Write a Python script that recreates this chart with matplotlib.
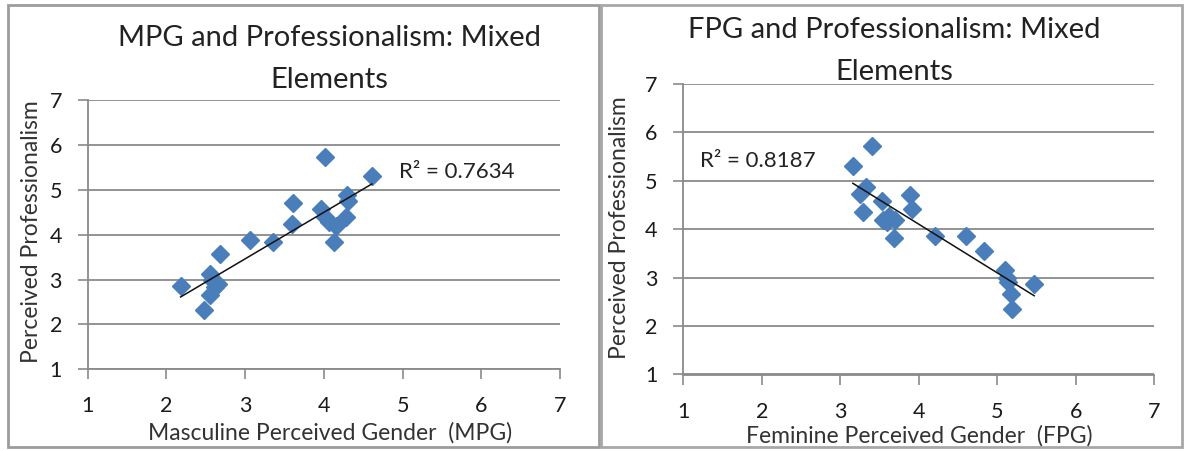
import numpy as np
import matplotlib
matplotlib.use("Agg")
import matplotlib.pyplot as plt
from matplotlib.patches import Rectangle

plt.rcParams['font.family'] = ['Lato', 'DejaVu Sans']

# ---- data ----
mpg_x = [4.01, 4.61, 4.29, 4.31, 4.28, 3.61, 3.60, 3.97, 4.01, 4.07, 4.15, 4.13,
         3.06, 3.35, 2.68, 2.18, 2.56, 2.58, 2.66, 2.55, 2.48, 2.62]
mpg_y = [5.72, 5.31, 4.88, 4.76, 4.39, 4.70, 4.24, 4.57, 4.40, 4.28, 4.19, 3.83,
         3.87, 3.84, 3.58, 2.86, 3.13, 2.98, 2.91, 2.66, 2.32, 2.84]

fpg_x = [3.41, 3.16, 3.33, 3.25, 3.29, 3.53, 3.55, 3.70, 3.68, 3.89, 3.91, 3.62,
         4.21, 4.60, 4.83, 5.10, 5.12, 5.17, 5.19, 5.47, 5.14, 3.60]
fpg_y = [5.71, 5.31, 4.87, 4.72, 4.35, 4.58, 4.20, 4.20, 3.82, 4.70, 4.42, 4.28,
         3.86, 3.86, 3.55, 3.16, 3.00, 2.66, 2.35, 2.86, 2.92, 4.15]

titles = ["MPG and Professionalism: Mixed\nElements",
          "FPG and Professionalism: Mixed\nElements"]
xlabels = ["Masculine Perceived Gender  (MPG)", "Feminine Perceived Gender  (FPG)"]
ylabel = "Perceived Professionalism"
r2_labels = ["R\u00b2 = 0.7634", "R\u00b2 = 0.8187"]
ticks = [1, 2, 3, 4, 5, 6, 7]

W, H = 1190, 451
fig = plt.figure(figsize=(W / 100, H / 100), dpi=100)

def fx(px):
    return px / W

def fy(py):
    return 1 - py / H

# panel borders
fig.patches.append(Rectangle((fx(7.5), fy(447)), fx(599 - 7.5), fy(4.7) - fy(447),
                             transform=fig.transFigure, fill=False,
                             edgecolor='#9c9c9c', lw=2.0))
fig.patches.append(Rectangle((fx(601), fy(447)), fx(1181.5 - 601), fy(4.7) - fy(447),
                             transform=fig.transFigure, fill=False,
                             edgecolor='#a8a8a8', lw=2.0))

panels = [
    dict(x=mpg_x, y=mpg_y, box=(87.7, 100, 560, 369.3), title_c=(329, 59),
         xl=(330, 433), yl=(32, 232), r2=(4.96, 5.40)),
    dict(x=fpg_x, y=fpg_y, box=(683.3, 84, 1154.3, 374.5), title_c=(894, 51),
         xl=(919, 436), yl=(620, 228), r2=(1.21, 5.41)),
]

for i, p in enumerate(panels):
    l, t, r, b = p['box']
    ax = fig.add_axes([fx(l), fy(b), fx(r - l), fy(t) - fy(b)])
    ax.set_xlim(1, 7)
    ax.set_ylim(1, 7)
    ax.set_xticks(ticks)
    ax.set_yticks(ticks)
    ax.grid(axis='y', color='#8a8a8a', lw=1.3)
    ax.set_axisbelow(True)
    for s in ['top', 'right']:
        ax.spines[s].set_visible(False)
    for s in ['left', 'bottom']:
        ax.spines[s].set_color('#8a8a8a')
        ax.spines[s].set_linewidth(1.3)
    ax.tick_params(axis='both', direction='out', length=7.5, width=1.2,
                   color='#8a8a8a', labelsize=15.5, labelcolor='#1a1a1a')
    ax.tick_params(axis='y', pad=11)
    ax.tick_params(axis='x', pad=12)
    ax.plot(p['x'], p['y'], linestyle='none', marker='D', markersize=9.5,
            color='#4a7ebb', clip_on=False, zorder=3)
    xs = np.array(p['x'])
    ys = np.array(p['y'])
    k, c = np.polyfit(xs, ys, 1)
    xl = np.array([xs.min(), xs.max()])
    ax.plot(xl, k * xl + c, color='#111111', lw=1.1, zorder=4)
    ax.text(p['r2'][0], p['r2'][1], r2_labels[i], fontsize=16, color='#222222',
            ha='left', va='center')
    fig.text(fx(p['title_c'][0]), fy(p['title_c'][1]), titles[i], fontsize=21,
             ha='center', va='center', color='#222222', linespacing=1.75)
    fig.text(fx(p['xl'][0]), fy(p['xl'][1]), xlabels[i], fontsize=16.5,
             ha='center', va='center', color='#333333')
    fig.text(fx(p['yl'][0]), fy(p['yl'][1]), ylabel, fontsize=16.5, rotation=90,
             ha='center', va='center', color='#333333')

fig.savefig('out.png', dpi=100)
